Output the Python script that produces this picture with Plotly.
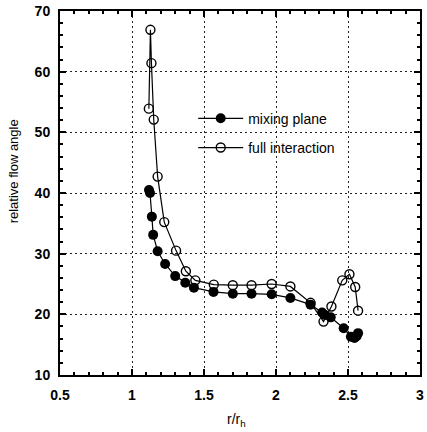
import plotly.graph_objects as go

# Data
mix_r = [1.118, 1.125, 1.138, 1.147, 1.178, 1.23, 1.30, 1.37, 1.43, 1.566, 1.70, 1.83, 1.97, 2.10, 2.24, 2.32, 2.34, 2.38, 2.47, 2.52, 2.545, 2.56, 2.57]
mix_angle = [40.5, 40.0, 36.1, 33.1, 30.4, 28.3, 26.3, 25.2, 24.4, 23.7, 23.4, 23.4, 23.3, 22.7, 21.6, 20.3, 19.9, 19.5, 17.7, 16.3, 16.1, 16.4, 16.9]

full_r = [1.117, 1.128, 1.135, 1.151, 1.178, 1.224, 1.306, 1.374, 1.44, 1.568, 1.70, 1.83, 1.97, 2.10, 2.24, 2.33, 2.385, 2.46, 2.51, 2.55, 2.57]
full_angle = [53.9, 66.9, 61.4, 52.1, 42.7, 35.2, 30.5, 27.1, 25.6, 24.9, 24.8, 24.8, 25.0, 24.6, 21.9, 18.8, 21.3, 25.6, 26.6, 24.5, 20.6]

x_ticks = [0.5, 1, 1.5, 2, 2.5, 3]
x_ticklabels = ["0.5", "1", "1.5", "2", "2.5", "3"]
y_ticks = [10, 20, 30, 40, 50, 60, 70]

fig = go.Figure()
fig.add_trace(go.Scatter(
    x=mix_r, y=mix_angle, mode="lines+markers", name="mixing plane", legendgroup="a",
    line=dict(color="black", width=1.2),
    marker=dict(symbol="circle", size=10, color="black"),
))
fig.add_trace(go.Scatter(
    x=full_r, y=full_angle, mode="lines+markers", name="full interaction", legendgroup="b",
    line=dict(color="black", width=1.2),
    marker=dict(symbol="circle-open", size=9, color="black", line=dict(width=1.4)),
))

axis_common = dict(
    showline=True, linecolor="black", linewidth=2, mirror="allticks",
    ticks="inside", ticklen=6, tickwidth=1.5, tickcolor="black",
    showgrid=True, gridcolor="#222", gridwidth=1, griddash="2px,3px",
    zeroline=False,
    tickfont=dict(family="Liberation Sans", size=14, color="black", weight="bold"),
)

fig.update_layout(
    width=427, height=432,
    margin=dict(l=60, r=3, t=10, b=57),
    paper_bgcolor="white", plot_bgcolor="white",
    showlegend=True,
    legend=dict(x=0.37, y=0.748, xanchor="left", yanchor="top",
                bgcolor="rgba(0,0,0,0)", borderwidth=0,
                font=dict(family="Liberation Sans", size=14, color="black"),
                tracegroupgap=8, itemwidth=45),
    xaxis=dict(range=[0.5, 3], tickvals=x_ticks, ticktext=x_ticklabels, ticklabelstandoff=6,
               minor=dict(ticks="inside", ticklen=3, dtick=0.1, tickcolor="black", showgrid=False),
               **axis_common),
    yaxis=dict(range=[10, 70], tickvals=y_ticks, ticklabelstandoff=5,
               minor=dict(ticks="inside", ticklen=3, dtick=2, tickcolor="black", showgrid=False),
               **axis_common),
    annotations=[
        dict(text="relative flow angle", textangle=-90, x=-0.13, y=0.56,
             xref="paper", yref="paper", showarrow=False, xanchor="center", yanchor="middle",
             font=dict(family="Liberation Sans", size=13, color="black")),
        dict(text="r/r<sub>h</sub>", x=0.49, y=-0.155, xref="paper", yref="paper",
             showarrow=False, xanchor="center", yanchor="bottom",
             font=dict(family="Liberation Sans", size=14, color="black")),
    ],
)

fig.write_html("out.html")
